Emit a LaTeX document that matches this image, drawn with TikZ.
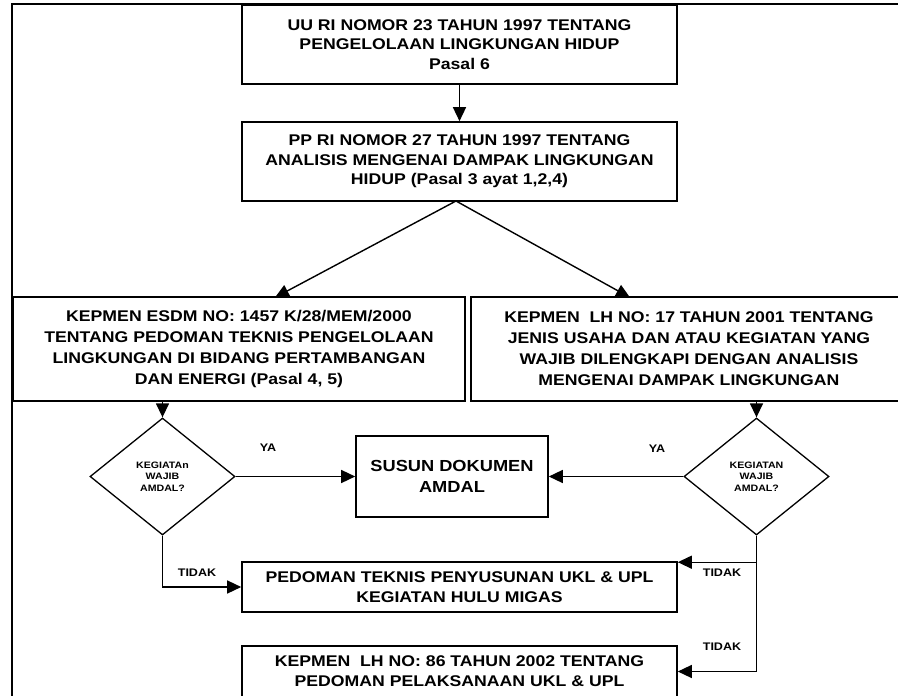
\documentclass[tikz,border=0pt]{standalone}
\usepackage{fontspec}
\setmainfont{Liberation Sans}[FakeStretch=1.14]
\usetikzlibrary{shapes.geometric,arrows.meta}
\begin{document}
\begin{tikzpicture}[x=1pt,y=-1pt,
  box/.style={draw,line width=1.6pt,align=center,inner sep=0pt,font=\bfseries\fontsize{15.5}{19.5}\selectfont},
  dia/.style={draw,diamond,line width=1.3pt,align=center,inner sep=0pt,minimum width=145pt,minimum height=117pt,font=\bfseries\fontsize{9.3}{11.5}\selectfont},
  arr/.style={line width=1.4pt,-{Triangle[length=14pt,width=13pt]}},
  lbl/.style={font=\bfseries\fontsize{11}{12}\selectfont,inner sep=0pt}]
\useasboundingbox (0,0) rectangle (898,696);
\clip (0,0) rectangle (898,696);
\draw[line width=1.6pt] (12,700) -- (12,4) -- (900,4);
\node[box,minimum width=435pt,minimum height=79pt] (uu) at (459.5,44.5)
  {UU RI NOMOR 23 TAHUN 1997 TENTANG\\PENGELOLAAN LINGKUNGAN HIDUP\\Pasal 6};
\node[box,minimum width=435pt,minimum height=79pt] (pp) at (459.5,161.5)
  {PP RI NOMOR 27 TAHUN 1997 TENTANG\\ANALISIS MENGENAI DAMPAK LINGKUNGAN\\HIDUP (Pasal 3 ayat 1,2,4)};
\node[box,minimum width=452pt,minimum height=104pt,font=\bfseries\fontsize{15.5}{21}\selectfont] (esdm) at (239,349)
  {KEPMEN ESDM NO: 1457 K/28/MEM/2000\\TENTANG PEDOMAN TEKNIS PENGELOLAAN\\LINGKUNGAN DI BIDANG PERTAMBANGAN\\DAN ENERGI (Pasal 4, 5)};
\node[box,minimum width=436pt,minimum height=104pt,font=\bfseries\fontsize{15.5}{21}\selectfont] (lh) at (689,349)
  {KEPMEN~ LH NO: 17 TAHUN 2001 TENTANG\\JENIS USAHA DAN ATAU KEGIATAN YANG\\WAJIB DILENGKAPI DENGAN ANALISIS\\MENGENAI DAMPAK LINGKUNGAN};
\node[dia] (ld) at (162.5,476.5) {KEGIATAn\\WAJIB\\AMDAL?};
\node[dia] (rd) at (756.5,476.5) {KEGIATAN\\WAJIB\\AMDAL?};
\node[box,minimum width=192pt,minimum height=81pt,font=\bfseries\fontsize{16}{21}\selectfont] (susun) at (452,476.5)
  {SUSUN DOKUMEN\\AMDAL};
\node[box,minimum width=435pt,minimum height=50pt,font=\bfseries\fontsize{15.5}{20}\selectfont] (ped) at (459.5,587)
  {PEDOMAN TEKNIS PENYUSUNAN UKL \& UPL\\KEGIATAN HULU MIGAS};
\node[box,minimum width=435pt,minimum height=51pt,font=\bfseries\fontsize{15.5}{20}\selectfont] (k86) at (459.5,671.5)
  {KEPMEN~ LH NO: 86 TAHUN 2002 TENTANG\\PEDOMAN PELAKSANAAN UKL \& UPL};
\draw[arr] (uu.south) -- (pp.north);
\coordinate (ppb) at (456,201);
\draw[arr] (ppb) -- (275,297.5);
\draw[arr] (ppb) -- (630,297.5);
\draw[arr] (esdm.south -| ld.north) -- (ld.north);
\draw[arr] (lh.south -| rd.north) -- (rd.north);
\draw[arr] (ld.east) -- (susun.west);
\draw[arr] (rd.west) -- (susun.east);
\draw[arr] (ld.south) |- (ped.west);
\draw[arr] (rd.south) |- (k86.east);
\draw[arr] ([yshift=-1pt]ped.north east -| rd.south) -- ([yshift=-1pt]ped.north east);
\node[lbl] (ya1) at (268,448) {YA};
\node[lbl] (ya2) at (657,449) {YA};
\node[lbl] (t1) at (197,573) {TIDAK};
\node[lbl] (t2) at (722,573) {TIDAK};
\node[lbl] (t3) at (722,647) {TIDAK};
\end{tikzpicture}
\end{document}
